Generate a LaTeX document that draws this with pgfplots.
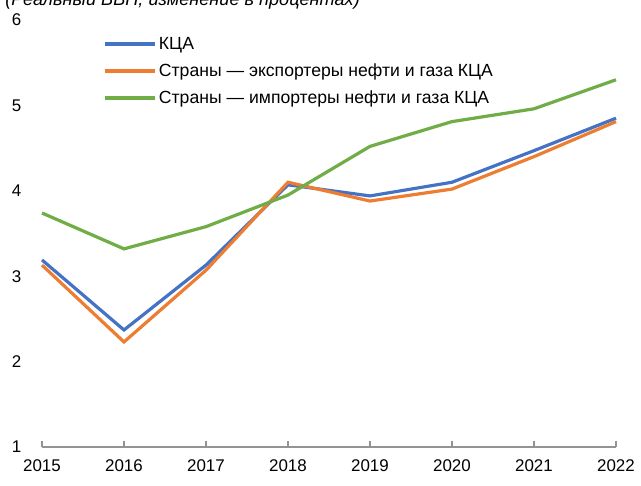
\documentclass[border=0pt]{standalone}
\usepackage{fontspec}
\setmainfont{Liberation Sans}
\usepackage{pgfplots}
\pgfplotsset{compat=1.18}
\definecolor{cblue}{HTML}{4472C4}
\definecolor{corange}{HTML}{ED7D31}
\definecolor{cgreen}{HTML}{70AD47}
\begin{document}
\begin{tikzpicture}
\begin{axis}[
  scale only axis, width=430.5pt, height=320.25pt,
  xmin=2015, xmax=2022, ymin=1, ymax=6,
  axis x line=bottom, axis y line=left,
  x axis line style={-, color=gray!85, line width=1.1pt},
  y axis line style={draw=none},
  xtick={2015,...,2022}, ytick={1,...,6},
  xtick style={color=gray!85, line width=1.1pt},
  ytick style={draw=none},
  tick align=inside, major tick length=4.5pt,
  xticklabel style={/pgf/number format/1000 sep={}},
  /pgf/number format/assume math mode=true,
  tick label style={font=\fontsize{12.7}{15}\selectfont},
  yticklabel style={xshift=-12pt},
  xticklabel style={yshift=-6pt},
  clip=false,
  legend style={draw=none, fill=none, at={(rel axis cs:0.106,0.967)}, anchor=north west,
    font=\fontsize{13.2}{14.5}\selectfont, row sep=5.3pt, inner sep=0pt},
  legend cell align=left,
  legend image code/.code={\draw[#1, line width=2.4pt] (0pt,0pt) -- (37.5pt,0pt);},
]
\addplot[cblue, line width=2.4pt] coordinates {
(2015,3.19) (2016,2.37) (2017,3.13) (2018,4.07) (2019,3.94) (2020,4.10) (2021,4.47) (2022,4.85)};
\addlegendentry{КЦА}
\addplot[corange, line width=2.4pt] coordinates {
(2015,3.13) (2016,2.23) (2017,3.07) (2018,4.10) (2019,3.88) (2020,4.02) (2021,4.40) (2022,4.81)};
\addlegendentry{Страны — экспортеры нефти и газа КЦА}
\addplot[cgreen, line width=2.4pt] coordinates {
(2015,3.74) (2016,3.32) (2017,3.58) (2018,3.95) (2019,4.52) (2020,4.81) (2021,4.96) (2022,5.30)};
\addlegendentry{Страны — импортеры нефти и газа КЦА}
\coordinate (ll) at (rel axis cs:0,0);
\coordinate (ur) at (rel axis cs:1,1);
\end{axis}
\node[anchor=base west, inner sep=0pt, font=\fontsize{13.6}{15}\selectfont\itshape]
  at ([shift={(-27.75pt,10.5pt)}]ur -| ll) {(Реальный ВВП, изменение в процентах)};
\pgfresetboundingbox
\useasboundingbox ([shift={(-31.5pt,-29.25pt)}]ll) rectangle ([shift={(18.75pt,15pt)}]ur);
\end{tikzpicture}
\end{document}
